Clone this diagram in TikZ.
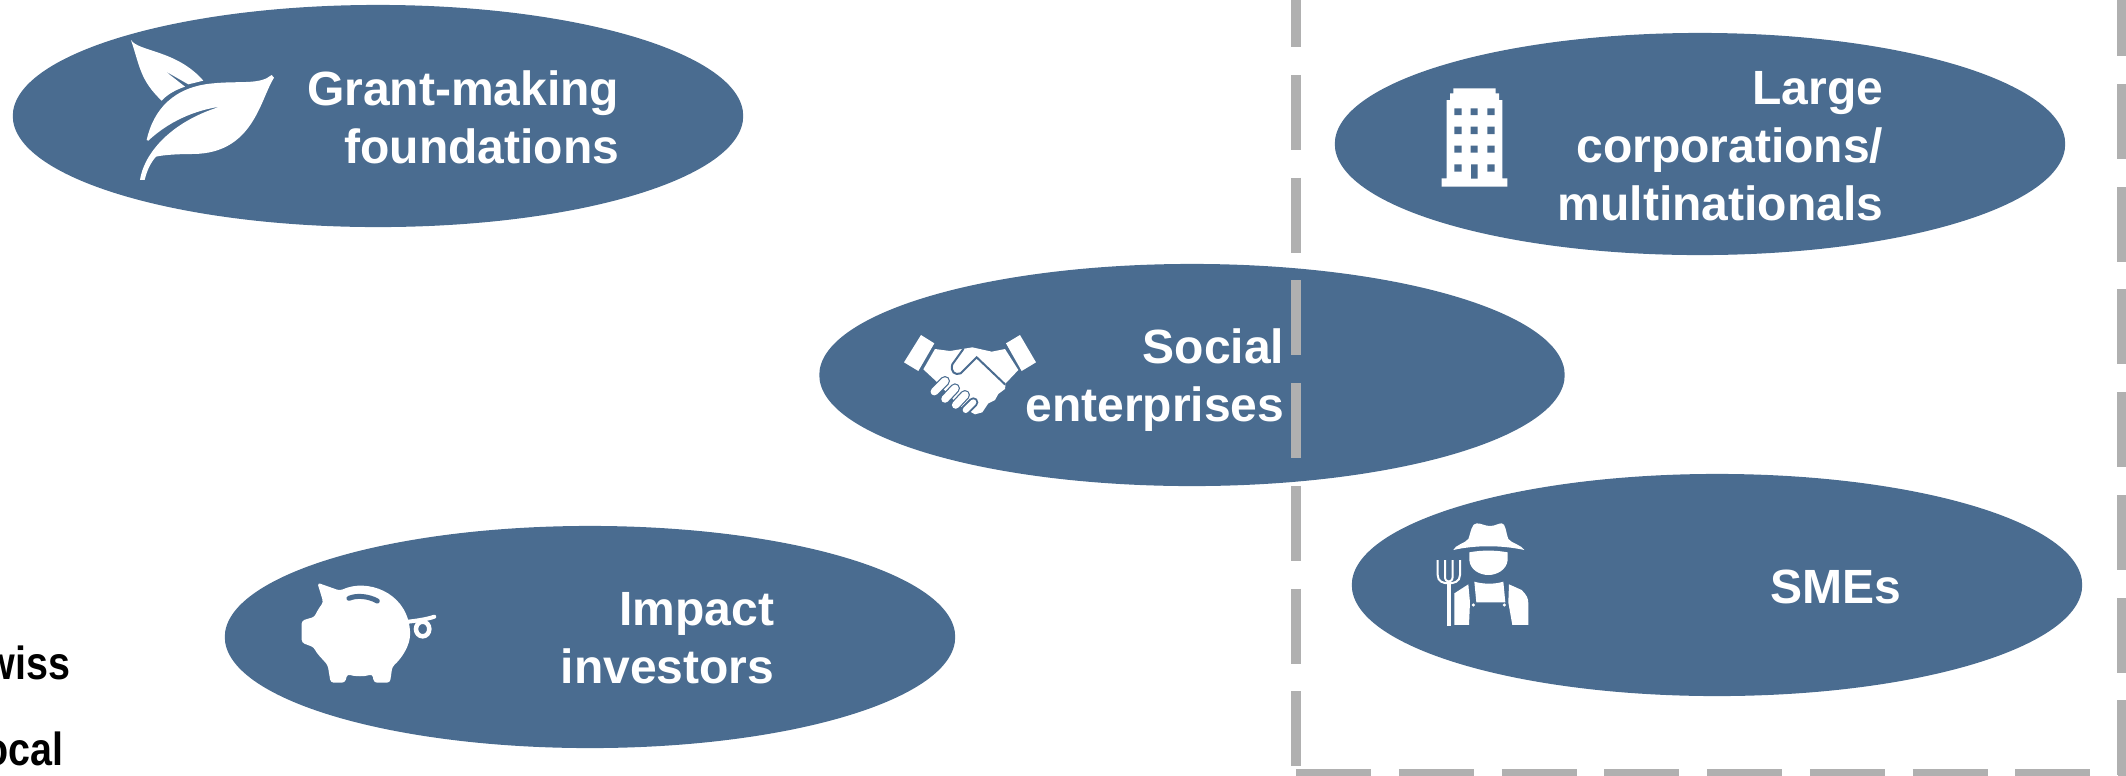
\documentclass[tikz,border=0pt]{standalone}
\usepackage{fontspec}
\setmainfont{Liberation Sans}
\usetikzlibrary{shapes.geometric}
\definecolor{blobblue}{RGB}{74,108,144}
\definecolor{boxgrey}{RGB}{176,176,176}
\tikzset{
  blob/.style={ellipse, fill=blobblue, inner sep=0pt, minimum width=7.3cm, minimum height=2.22cm},
  blobtext/.style={text=white, inner sep=0pt, align=right, anchor=base east,
    font=\bfseries\fontsize{13.66}{16.36}\selectfont},
  sidetext/.style={text=black, inner sep=0pt, anchor=base east, transform shape, xscale=0.85,
    font=\bfseries\fontsize{13.2}{15}\selectfont},
  boxline/.style={draw=boxgrey, line width=0.1cm, dash pattern=on 0.75cm off 0.277cm},
  iconfill/.style={fill=white},
  iconcut/.style={fill=blobblue},
  iconline/.style={draw=white, line cap=round},
  iconslot/.style={draw=blobblue, line cap=round}
}
\begin{document}
\begin{tikzpicture}[x=0.01cm, y=-0.01cm]
  \useasboundingbox (0,0) rectangle (2126,775);
  \node[blob] (grant) at (378,116) {};
  \node[blob] (large) at (1700,144) {};
  \node[blob, minimum width=7.45cm] (social) at (1192,375) {};
  \node[blob] (impact) at (590,637) {};
  \node[blob] (smes) at (1717,585) {};

  \node[blobtext] (granttext) at (620,163) {Grant-making\\foundations};
  \node[blobtext] (largetext) at (1884,220) {Large\\corporations/\\multinationals};
  \node[blobtext] (socialtext) at (1285,421) {Social\\enterprises};
  \node[blobtext] (impacttext) at (775,683) {Impact\\investors};
  \node[blobtext] (smestext) at (1902,603) {SMEs};
  \node[sidetext] (swiss) at (71,679) {Swiss};
  \node[sidetext] (local) at (64,765) {local};

  \begin{scope}[shift={(120,30)}, scale=0.3333]
    \fill[iconfill] (33,30) .. controls (55,65) and (170,60) .. (250,152) -- (205,163) -- (135,123)
      -- (195,170) .. controls (165,180) and (140,195) .. (125,212) .. controls (60,150) and (60,110) .. (33,30) -- cycle;
    \fill[iconfill] (80,330) .. controls (100,240) and (160,170) .. (280,160) .. controls (360,152) and (420,165) .. (455,135)
      -- (462,143) .. controls (420,210) and (400,370) .. (220,372) .. controls (170,372) and (130,375) .. (108,380)
      .. controls (90,400) and (80,425) .. (74,450) -- (60,450) .. controls (70,380) and (140,280) .. (300,230)
      .. controls (200,245) and (130,290) .. (85,332) -- cycle;
  \end{scope}

  \begin{scope}[shift={(290,570)}, scale=0.3333]
    \fill[iconfill, rounded corners=0.03cm] (82,38) -- (150,62) .. controls (230,25) and (345,65) .. (360,180)
      .. controls (362,225) and (335,265) .. (307,290) -- (300,338) -- (252,338) -- (247,312)
      .. controls (225,320) and (195,320) .. (172,312) -- (165,338) -- (122,338) -- (113,285)
      .. controls (95,265) and (80,250) .. (72,232) -- (35,218) -- (35,152) -- (75,140)
      .. controls (80,125) and (90,110) .. (100,97) -- cycle;
    \draw[iconslot, line width=0.05cm] (177,85) .. controls (200,75) and (235,78) .. (262,93);
    \draw[iconline, line width=0.04cm] (355,155) .. controls (380,152) and (410,148) .. (433,140);
    \draw[iconline, line width=0.045cm] (398,177) ellipse[x radius=20, y radius=22];
  \end{scope}

  \begin{scope}[shift={(895,325)}, scale=0.3333]
    \fill[iconfill] (78,30) -- (118,55) -- (70,138) -- (27,112) -- cycle;
    \fill[iconfill] (375,30) -- (423,112) -- (380,138) -- (333,55) -- cycle;
    \fill[iconfill] (85,133) -- (120,72) -- (165,78) -- (232,67) -- (290,80) -- (330,72) -- (370,135) -- (332,175)
      -- (330,192) -- (310,207) -- (300,225) -- (280,235) -- (262,262) -- (240,268) -- (190,240) -- (125,170) -- cycle;
    \draw[iconslot, line width=0.02cm] (205,72) -- (172,118) .. controls (165,140) and (180,152) .. (197,145)
      -- (245,97) -- (330,178);
    \draw[iconslot, line width=0.1cm] (118,200) -- (150,168);
    \draw[iconslot, line width=0.1cm] (150,222) -- (180,190);
    \draw[iconslot, line width=0.1cm] (182,240) -- (210,210);
    \draw[iconslot, line width=0.1cm] (212,255) -- (235,232);
    \draw[iconline, line width=0.075cm] (118,200) -- (150,168);
    \draw[iconline, line width=0.075cm] (150,222) -- (180,190);
    \draw[iconline, line width=0.075cm] (182,240) -- (210,210);
    \draw[iconline, line width=0.06cm] (212,255) -- (235,232);
  \end{scope}

  \begin{scope}[shift={(1425,80)}, scale=0.3333]
    \fill[iconfill] (85,25) -- (212,25) -- (212,40) -- (222,40) -- (222,60) -- (232,60) -- (232,295) -- (247,295)
      -- (247,320) -- (50,320) -- (50,295) -- (65,295) -- (65,60) -- (75,60) -- (75,40) -- (85,40) -- cycle;
    \fill[iconcut] (88,85) rectangle (110,105) (137,85) rectangle (158,105) (187,85) rectangle (209,105);
    \fill[iconcut] (88,140) rectangle (110,162) (137,140) rectangle (158,162) (187,140) rectangle (209,162);
    \fill[iconcut] (88,197) rectangle (110,218) (137,197) rectangle (158,218) (187,197) rectangle (209,218);
    \fill[iconcut] (88,253) rectangle (110,275) (138,253) rectangle (158,296) (187,253) rectangle (209,275);
  \end{scope}

  \begin{scope}[shift={(1425,515)}, scale=0.3333]
    \fill[iconfill] (85,105) .. controls (90,90) and (120,85) .. (130,72) .. controls (138,50) and (140,25) .. (155,25)
      .. controls (170,25) and (180,33) .. (195,33) .. controls (210,33) and (220,25) .. (230,25)
      .. controls (242,25) and (242,50) .. (250,72) .. controls (260,85) and (290,90) .. (298,105)
      .. controls (230,90) and (150,90) .. (85,105) -- cycle;
    \fill[iconfill] (133,112) .. controls (170,105) and (210,105) .. (248,112) -- (248,135)
      .. controls (245,165) and (215,180) .. (190,180) .. controls (165,180) and (135,165) .. (133,135) -- cycle;
    \fill[iconfill] (148,200) .. controls (175,208) and (210,208) .. (235,200) -- (241,262) -- (154,262) -- cycle;
    \fill[iconfill] (88,235) -- (130,208) -- (135,262) -- (132,330) -- (88,330) -- cycle;
    \fill[iconfill] (252,208) -- (290,225) .. controls (305,240) and (310,250) .. (310,265) -- (310,330) -- (262,330) -- (250,262) -- cycle;
    \fill[iconfill] (145,270) circle[radius=5];
    \fill[iconfill] (238,270) circle[radius=5];
    \fill[iconfill] (65,200) rectangle (77,333);
    \draw[draw=white, line width=0.02cm] (38,135) -- (38,180) .. controls (38,200) and (55,205) .. (71,205)
      .. controls (87,205) and (105,200) .. (105,180) -- (105,135);
    \draw[draw=white, line width=0.02cm] (60,135) -- (60,185) .. controls (60,195) and (65,200) .. (71,200)
      .. controls (77,200) and (83,195) .. (83,185) -- (83,135);
  \end{scope}

  \coordinate (boxlefttop) at (1296,-28);
  \coordinate (boxleftend) at (1296,766);
  \coordinate (boxbotstart) at (1296,774);
  \coordinate (boxbotend) at (2126,774);
  \coordinate (boxrighttop) at (2122,-19);
  \coordinate (boxrightend) at (2122,775);
  \draw[boxline] (boxlefttop) -- (boxleftend);
  \draw[boxline] (boxbotstart) -- (boxbotend);
  \draw[boxline] (boxrighttop) -- (boxrightend);
\end{tikzpicture}
\end{document}
